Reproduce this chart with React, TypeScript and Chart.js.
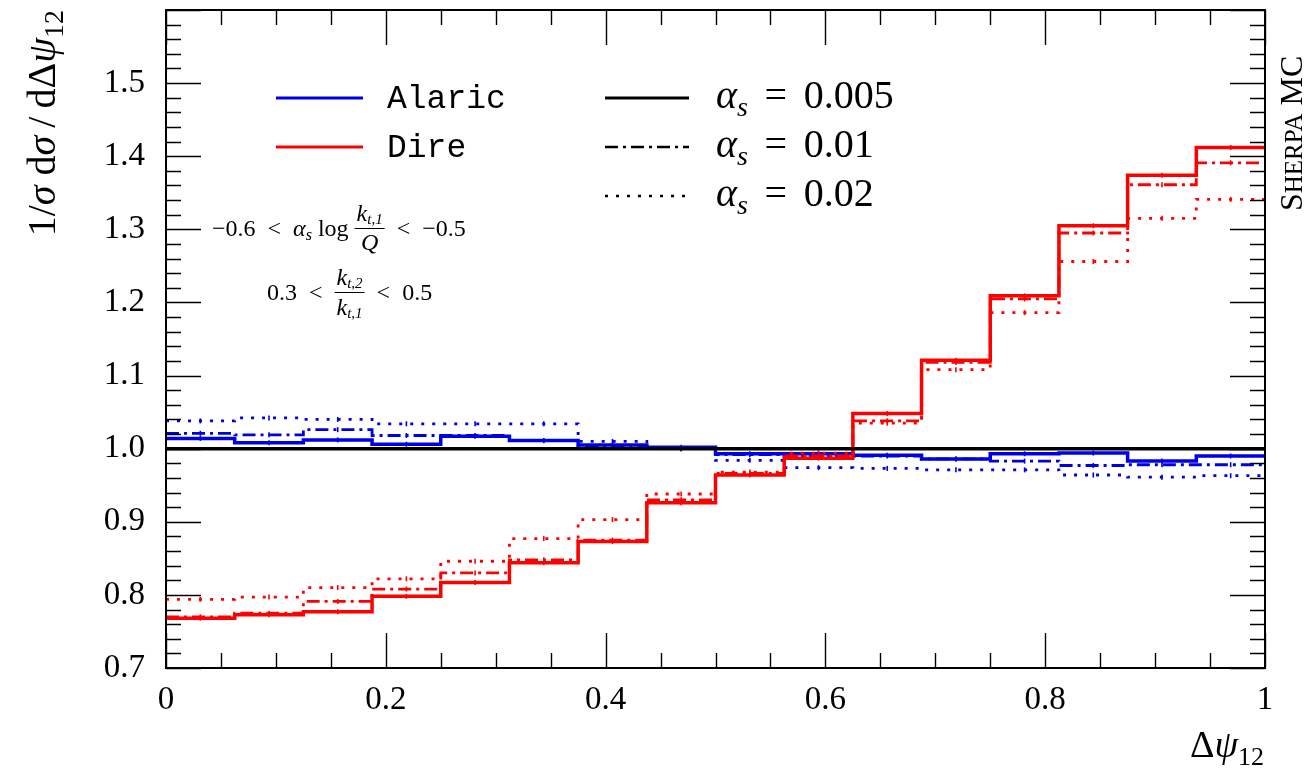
import React, { useEffect, useRef } from "react";
import { Chart, registerables } from "chart.js";

Chart.register(...registerables);

// ---------------- data ----------------
const binEdges = [0, 0.0625, 0.125, 0.1875, 0.25, 0.3125, 0.375, 0.4375, 0.5, 0.5625, 0.625, 0.6875, 0.75, 0.8125, 0.875, 0.9375, 1];
const binCenters = [0.03125, 0.09375, 0.15625, 0.21875, 0.28125, 0.34375, 0.40625, 0.46875, 0.53125, 0.59375, 0.65625, 0.71875, 0.78125, 0.84375, 0.90625, 0.96875];

const alaric005 = [1.014, 1.008, 1.012, 1.006, 1.017, 1.011, 1.005, 1.002, 0.993, 0.993, 0.991, 0.986, 0.993, 0.994, 0.983, 0.990];
const alaric01 = [1.021, 1.019, 1.026, 1.018, 1.018, 1.011, 1.004, 1.000, 0.992, 0.990, 0.990, 0.986, 0.983, 0.977, 0.978, 0.978];
const alaric02 = [1.038, 1.042, 1.040, 1.034, 1.034, 1.034, 1.010, 1.000, 0.984, 0.974, 0.973, 0.971, 0.971, 0.964, 0.961, 0.963];

const dire005 = [0.768, 0.773, 0.777, 0.798, 0.817, 0.844, 0.873, 0.926, 0.964, 0.987, 1.048, 1.121, 1.209, 1.305, 1.374, 1.412];
const dire01 = [0.770, 0.775, 0.791, 0.808, 0.830, 0.848, 0.875, 0.930, 0.966, 0.990, 1.038, 1.118, 1.205, 1.295, 1.361, 1.391];
const dire02 = [0.794, 0.797, 0.810, 0.822, 0.846, 0.877, 0.903, 0.938, 0.968, 0.994, 1.035, 1.108, 1.186, 1.256, 1.315, 1.341];

const refLineX = [0, 1];
const refLineY = [1, 1];

const xTickValues = [0, 0.2, 0.4, 0.6, 0.8, 1];
const xTickLabels = ["0", "0.2", "0.4", "0.6", "0.8", "1"];
const yTickValues = [0.7, 0.8, 0.9, 1.0, 1.1, 1.2, 1.3, 1.4, 1.5];
const yTickLabels = ["0.7", "0.8", "0.9", "1.0", "1.1", "1.2", "1.3", "1.4", "1.5"];

const generatorNames = ["Alaric", "Dire"];
const alphaLabels = ["0.005", "0.01", "0.02"];

// ---------------- style ----------------
const BLUE = "#0000e6";
const RED = "#ff0000";
const SERIF = "'Liberation Serif', 'Times New Roman', serif";
const MONO = "'Liberation Mono', 'DejaVu Sans Mono', monospace";
const DASHDOT = [13, 5, 3, 5];
const DOTTED = [3, 8];
const EN = "\u2002";

type Seg = { t: string; f: string; dy?: number };

function measureSegs(ctx: CanvasRenderingContext2D, segs: Seg[]) {
  let w = 0;
  for (const s of segs) {
    ctx.font = s.f;
    w += ctx.measureText(s.t).width;
  }
  return w;
}

function drawSegs(ctx: CanvasRenderingContext2D, x: number, y: number, segs: Seg[], align: "left" | "right" | "center" = "left") {
  const w = measureSegs(ctx, segs);
  let cx = align === "right" ? x - w : align === "center" ? x - w / 2 : x;
  ctx.textAlign = "left";
  ctx.textBaseline = "alphabetic";
  for (const s of segs) {
    ctx.font = s.f;
    ctx.fillText(s.t, cx, y + (s.dy || 0));
    cx += ctx.measureText(s.t).width;
  }
  return cx;
}

function drawFraction(ctx: CanvasRenderingContext2D, x: number, barY: number, num: Seg[], den: Seg[], numGap: number, denGap: number) {
  const wn = measureSegs(ctx, num);
  const wd = measureSegs(ctx, den);
  const w = Math.max(wn, wd) + 4;
  const cx = x + w / 2;
  drawSegs(ctx, cx, barY - numGap, num, "center");
  drawSegs(ctx, cx, barY + denGap, den, "center");
  ctx.save();
  ctx.strokeStyle = "#000";
  ctx.lineWidth = 1;
  ctx.beginPath();
  ctx.moveTo(x, barY + 0.5);
  ctx.lineTo(x + w, barY + 0.5);
  ctx.stroke();
  ctx.restore();
  return x + w;
}

const decorPlugin = {
  id: "decor",
  afterDraw(chart: any) {
    const ctx: CanvasRenderingContext2D = chart.ctx;
    const { left, right, top, bottom } = chart.chartArea;
    const xs = chart.scales.x;
    const ys = chart.scales.y;
    ctx.save();

    // ticks (inside, all four sides)
    ctx.strokeStyle = "#000";
    ctx.lineWidth = 1.4;
    const MAJ = 35;
    const MIN = 15;
    ctx.beginPath();
    for (let k = 0; k <= 45; k++) {
      const v = 0.7 + k * 0.02;
      const py = Math.round(ys.getPixelForValue(v)) + 0.5;
      const len = k % 5 === 0 ? MAJ : MIN;
      ctx.moveTo(left, py);
      ctx.lineTo(left + len, py);
      ctx.moveTo(right, py);
      ctx.lineTo(right - len, py);
    }
    for (let k = 0; k <= 20; k++) {
      const v = k * 0.05;
      const px = Math.round(xs.getPixelForValue(v)) + 0.5;
      const len = k % 4 === 0 ? MAJ : MIN;
      ctx.moveTo(px, bottom);
      ctx.lineTo(px, bottom - len);
      ctx.moveTo(px, top);
      ctx.lineTo(px, top + len);
    }
    ctx.stroke();

    // frame
    ctx.lineWidth = 2;
    ctx.strokeRect(left, top, right - left, bottom - top);

    ctx.fillStyle = "#000";

    // y-axis title (rotated)
    ctx.save();
    ctx.translate(55, 0);
    ctx.rotate(-Math.PI / 2);
    const F = 40;
    drawSegs(
      ctx,
      -10,
      0,
      [
        { t: "1/", f: `${F}px ${SERIF}` },
        { t: "σ", f: `italic ${F}px ${SERIF}` },
        { t: " d", f: `${F}px ${SERIF}` },
        { t: "σ", f: `italic ${F}px ${SERIF}` },
        { t: "\u2009/\u2009d", f: `${F}px ${SERIF}` },
        { t: "Δ", f: `${F}px ${SERIF}` },
        { t: "ψ", f: `italic ${F}px ${SERIF}` },
        { t: "12", f: `${Math.round(F * 0.7)}px ${SERIF}`, dy: 8 },
      ],
      "right"
    );
    ctx.restore();

    // x-axis title
    drawSegs(
      ctx,
      right - 1,
      757,
      [
        { t: "Δ", f: `38px ${SERIF}` },
        { t: "ψ", f: `italic 38px ${SERIF}` },
        { t: "12", f: `26px ${SERIF}`, dy: 8 },
      ],
      "right"
    );

    // Sherpa MC (rotated, small caps)
    ctx.save();
    ctx.translate(1302, 0);
    ctx.rotate(-Math.PI / 2);
    drawSegs(
      ctx,
      -211,
      0,
      [
        { t: "S", f: `32px ${SERIF}` },
        { t: "HERPA", f: `25px ${SERIF}` },
        { t: " MC", f: `32px ${SERIF}` },
      ],
      "left"
    );
    ctx.restore();

    // legend: generators
    const legendRowsY = [98, 147, 196];
    const genColors = [BLUE, RED];
    generatorNames.forEach((name, i) => {
      ctx.strokeStyle = genColors[i];
      ctx.lineWidth = 3;
      ctx.setLineDash([]);
      ctx.beginPath();
      ctx.moveTo(276, legendRowsY[i]);
      ctx.lineTo(363, legendRowsY[i]);
      ctx.stroke();
      ctx.fillStyle = "#000";
      ctx.font = `33px ${MONO}`;
      ctx.textAlign = "left";
      ctx.textBaseline = "alphabetic";
      ctx.fillText(name, 387, legendRowsY[i] + 10);
    });

    // legend: alpha_s styles
    const dashes = [[], DASHDOT, DOTTED];
    const widths = [3, 2.5, 2.5];
    alphaLabels.forEach((lab, i) => {
      ctx.strokeStyle = "#000";
      ctx.lineWidth = widths[i];
      ctx.setLineDash(dashes[i]);
      ctx.beginPath();
      ctx.moveTo(605, legendRowsY[i]);
      ctx.lineTo(689, legendRowsY[i]);
      ctx.stroke();
      ctx.setLineDash([]);
      ctx.fillStyle = "#000";
      drawSegs(ctx, 716, legendRowsY[i] + 10, [
        { t: "α", f: `italic 40px ${SERIF}` },
        { t: "s", f: `italic 28px ${SERIF}`, dy: 8 },
        { t: " \u2006=\u2006 " + lab, f: `40px ${SERIF}` },
      ]);
    });

    // annotation 1: -0.6 < alpha_s log k_{t,1}/Q < -0.5
    ctx.fillStyle = "#000";
    const A = 24;
    let ax = drawSegs(ctx, 212, 236, [
      { t: "−0.6" + EN + "<" + EN, f: `${A}px ${SERIF}` },
      { t: "α", f: `italic ${A}px ${SERIF}` },
      { t: "s", f: `italic 16px ${SERIF}`, dy: 4 },
      { t: "\u2005log\u2005", f: `${A}px ${SERIF}` },
    ]);
    ax = drawFraction(
      ctx,
      ax,
      228,
      [
        { t: "k", f: `italic ${A}px ${SERIF}` },
        { t: "t,1", f: `italic 15px ${SERIF}`, dy: 3 },
      ],
      [{ t: "Q", f: `italic ${A}px ${SERIF}` }],
      7,
      22
    );
    drawSegs(ctx, ax, 236, [{ t: EN + "<" + EN + "−0.5", f: `${A}px ${SERIF}` }]);

    // annotation 2: 0.3 < k_{t,2}/k_{t,1} < 0.5
    let bx = drawSegs(ctx, 267, 300, [{ t: "0.3" + EN + "<" + EN, f: `${A}px ${SERIF}` }]);
    bx = drawFraction(
      ctx,
      bx,
      292,
      [
        { t: "k", f: `italic ${A}px ${SERIF}` },
        { t: "t,2", f: `italic 15px ${SERIF}`, dy: 3 },
      ],
      [
        { t: "k", f: `italic ${A}px ${SERIF}` },
        { t: "t,1", f: `italic 15px ${SERIF}`, dy: 3 },
      ],
      7,
      23
    );
    drawSegs(ctx, bx, 300, [{ t: EN + "<" + EN + "0.5", f: `${A}px ${SERIF}` }]);

    ctx.restore();
  },
};

export default function App() {
  const ref = useRef<HTMLCanvasElement>(null);

  useEffect(() => {
    const canvas = ref.current;
    if (!canvas) return;
    const ctx = canvas.getContext("2d");
    if (!ctx) return;

    // stepped "before": horizontal at the previous point's value, then vertical
    const hist = (vals: number[]) => binEdges.map((x, i) => ({ x, y: vals[Math.min(i, vals.length - 1)] }));
    const bars = (vals: number[]) => binCenters.map((x, i) => ({ x, y: vals[i] }));

    const series = [
      { vals: dire005, color: RED, dash: [] as number[], width: 3.5, order: 1 },
      { vals: dire01, color: RED, dash: DASHDOT, width: 2.8, order: 2 },
      { vals: dire02, color: RED, dash: DOTTED, width: 2.8, order: 3 },
      { vals: alaric005, color: BLUE, dash: [] as number[], width: 3.5, order: 4 },
      { vals: alaric01, color: BLUE, dash: DASHDOT, width: 2.8, order: 5 },
      { vals: alaric02, color: BLUE, dash: DOTTED, width: 2.8, order: 6 },
    ];

    const datasets: any[] = [
      {
        type: "line",
        data: refLineX.map((x, i) => ({ x, y: refLineY[i] })),
        borderColor: "#000",
        borderWidth: 3.5,
        pointRadius: 0,
        order: 0,
      },
    ];
    for (const s of series) {
      datasets.push({
        type: "line",
        data: hist(s.vals),
        stepped: "before",
        borderColor: s.color,
        borderWidth: s.width,
        borderDash: s.dash,
        borderCapStyle: "butt",
        pointRadius: 0,
        fill: false,
        order: s.order,
      });
      datasets.push({
        type: "scatter",
        data: bars(s.vals),
        showLine: false,
        pointStyle: "line",
        rotation: 90,
        pointRadius: 2.5,
        pointBorderWidth: 1.6,
        pointBorderColor: s.color,
        pointBackgroundColor: s.color,
        order: s.order,
      });
    }

    const tickFont = { family: SERIF, size: 33 };

    const chart = new Chart(ctx, {
      type: "line",
      data: { datasets },
      options: {
        animation: false,
        responsive: false,
        maintainAspectRatio: false,
        events: [],
        layout: { padding: { left: 0, top: 10, right: 45, bottom: 0 } },
        plugins: { legend: { display: false }, tooltip: { enabled: false }, title: { display: false } },
        scales: {
          x: {
            type: "linear",
            min: 0,
            max: 1,
            afterBuildTicks: (s: any) => {
              s.ticks = xTickValues.map((v) => ({ value: v }));
            },
            afterFit: (s: any) => {
              s.height = 103;
              s.paddingLeft = 0;
              s.paddingRight = 0;
            },
            ticks: {
              callback: (_v: any, i: number) => xTickLabels[i],
              font: tickFont,
              color: "#000",
              padding: 13,
              maxRotation: 0,
              autoSkip: false,
            },
            grid: { display: false, drawTicks: false },
            border: { display: false },
          },
          y: {
            type: "linear",
            min: 0.7,
            max: 1.6,
            afterBuildTicks: (s: any) => {
              s.ticks = yTickValues.map((v) => ({ value: v }));
            },
            afterFit: (s: any) => {
              s.width = 166;
              s.paddingTop = 0;
              s.paddingBottom = 0;
            },
            ticks: {
              callback: (_v: any, i: number) => yTickLabels[i],
              font: tickFont,
              color: "#000",
              padding: 21,
              autoSkip: false,
            },
            grid: { display: false, drawTicks: false },
            border: { display: false },
          },
        },
      } as any,
      plugins: [decorPlugin],
    });

    return () => chart.destroy();
  }, []);

  return (
    <div style={{ position: "fixed", left: 0, top: 0, width: 1310, height: 771, background: "#fff" }}>
      <canvas ref={ref} width={1310} height={771} style={{ display: "block" }} />
    </div>
  );
}
